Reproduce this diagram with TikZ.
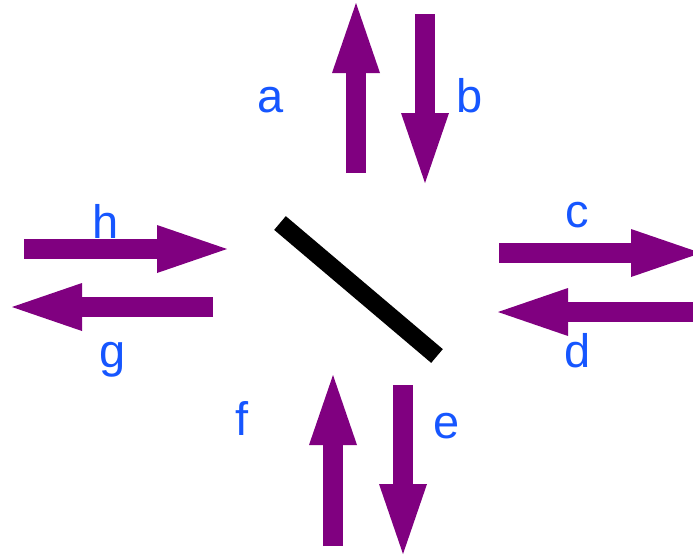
\documentclass[tikz,border=0pt]{standalone}
\usepackage{fontspec}
\setmainfont{Liberation Sans}
\usetikzlibrary{arrows.meta}
\definecolor{flowpurple}{RGB}{128,0,128}
\definecolor{labelblue}{RGB}{22,86,255}

\begin{document}
\begin{tikzpicture}[x=1pt, y=-1pt,
  flow/.style={flowpurple, line width=20pt,
    -{Triangle[width=48pt, length=70pt, line width=0pt]}},
  lab/.style={labelblue, anchor=base, inner sep=0pt, font=\fontsize{47}{50}\selectfont},
  mirror/.style={black, line width=18pt}]
\useasboundingbox (0,0) rectangle (693,555);
% labels
\node[lab] (lab-a) at (270.5,112) {a};
\node[lab] (lab-b) at (470,112) {b};
\node[lab] (lab-c) at (577.5,227) {c};
\node[lab] (lab-d) at (578,367) {d};
\node[lab] (lab-e) at (446.5,438) {e};
\node[lab] (lab-f) at (242,435) {f};
\node[lab] (lab-g) at (112.5,367) {g};
\node[lab] (lab-h) at (106,238) {h};
% beam ends
\coordinate (a0) at (356,173); \coordinate (a1) at (356,3);
\coordinate (b0) at (425,14);  \coordinate (b1) at (425,183);
\coordinate (c0) at (499,253); \coordinate (c1) at (701,253);
\coordinate (d0) at (705,312); \coordinate (d1) at (498,312);
\coordinate (e0) at (403,385); \coordinate (e1) at (403,554);
\coordinate (f0) at (333,546); \coordinate (f1) at (333,375);
\coordinate (g0) at (213,307); \coordinate (g1) at (12,307);
\coordinate (h0) at (24,249);  \coordinate (h1) at (227,249);
\coordinate (m0) at (280,223); \coordinate (m1) at (437,356);
% beams
\draw[flow] (a0) -- (a1);
\draw[flow] (b0) -- (b1);
\draw[flow] (c0) -- (c1);
\draw[flow] (d0) -- (d1);
\draw[flow] (e0) -- (e1);
\draw[flow] (f0) -- (f1);
\draw[flow] (g0) -- (g1);
\draw[flow] (h0) -- (h1);
% mirror
\draw[mirror] (m0) -- (m1);
\end{tikzpicture}
\end{document}
